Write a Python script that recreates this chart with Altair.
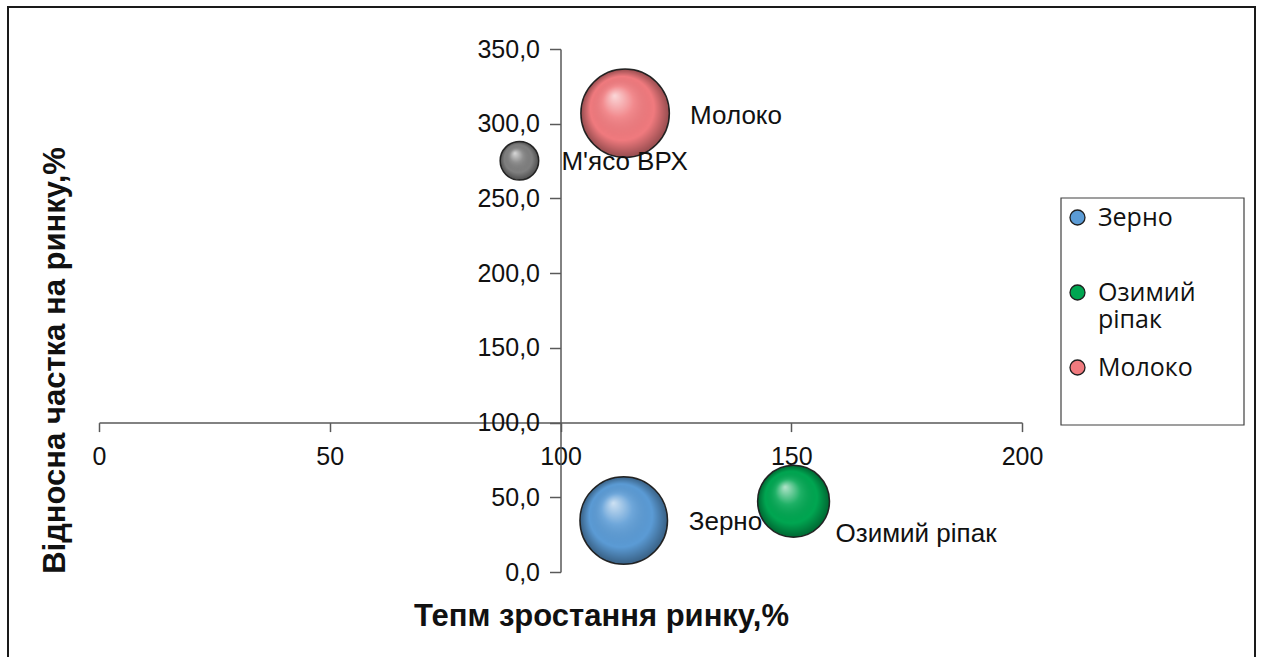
import altair as alt
import pandas as pd

# Market position of farm products (BCG-style bubble chart)
products = ["Зерно", "Озимий ріпак", "Молоко", "М'ясо ВРХ"]
growth_rate = [113.7, 150.5, 114.0, 91.1]      # Тепм зростання ринку, %
relative_share = [34.5, 47.3, 307.0, 275.2]    # Відносна частка на ринку, %
volume = [98, 66, 100, 19]                     # bubble size measure
colors = ["#5b9bd5", "#00a651", "#f07a7e", "#7f7f7f"]
legend_items = ["Зерно", "Озимий ріпак", "Молоко"]
x_ticks = [0, 50, 100, 150, 200]
y_ticks = [0, 50, 100, 150, 200, 250, 300, 350]

df = pd.DataFrame({
    "product": products,
    "growth": growth_rate,
    "share": relative_share,
    "volume": volume,
})

W, H = 923, 523
AXIS_COLOR = "#595959"
TEXT_COLOR = "#111111"
FONT = "Liberation Sans"

# axes cross at (100, 100)
x_enc = alt.X(
    "growth:Q",
    scale=alt.Scale(domain=[0, 200], nice=False, zero=False),
    axis=alt.Axis(
        values=x_ticks, format="d", offset=-149.4, grid=False,
        tickSize=9, tickWidth=1.5, tickColor=AXIS_COLOR,
        domainColor=AXIS_COLOR, domainWidth=1.5,
        labelFont=FONT, labelFontSize=25, labelColor=TEXT_COLOR,
        labelPadding=13, labelFlush=False, labelOverlap=False,
        title="Тепм зростання  ринку,%", titleFont=FONT, titleFontSize=31,
        titleFontWeight="bold", titleColor=TEXT_COLOR,
        titleX=502, titleY=203, titleAlign="center", titleBaseline="alphabetic",
    ),
)
y_enc = alt.Y(
    "share:Q",
    scale=alt.Scale(domain=[0, 350], nice=False),
    axis=alt.Axis(
        values=y_ticks, labelExpr="replace(format(datum.value, '.1f'), '.', ',')",
        offset=-461.5, grid=False,
        tickSize=11, tickWidth=1.5, tickColor=AXIS_COLOR,
        domainColor=AXIS_COLOR, domainWidth=1.5,
        labelFont=FONT, labelFontSize=25, labelColor=TEXT_COLOR,
        labelPadding=10, labelFlush=False, labelOverlap=False,
        title="Відносна частка на ринку,%", titleFont=FONT, titleFontSize=31,
        titleFontWeight="bold", titleColor=TEXT_COLOR,
        titleX=-496, titleY=311, titleAngle=270,
        titleAlign="center", titleBaseline="alphabetic",
    ),
)
size_enc = alt.Size("volume:Q", scale=alt.Scale(domain=[0, 100], range=[0, 7832]), legend=None)

color_enc = alt.Color(
    "product:N",
    scale=alt.Scale(domain=products, range=colors),
    legend=alt.Legend(
        values=legend_items, title=None, orient="none", legendX=966, legendY=156,
        padding=0, symbolType="circle", symbolSize=225,
        symbolStrokeColor="#1f1f1f", symbolStrokeWidth=1.3, symbolOpacity=1,
        labelFont="Open Sans", labelFontSize=25, labelColor=TEXT_COLOR,
        labelOffset=8, labelLimit=300, rowPadding=22, gridAlign="all",
        labelExpr="datum.label == 'Озимий ріпак' ? ['Озимий', 'ріпак'] : datum.label",
    ),
)

bubbles = alt.Chart(df).mark_circle(opacity=1, stroke="#2b2b2b", strokeWidth=1.5).encode(
    x=x_enc, y=y_enc, size=size_enc, color=color_enc
)

# glossy sphere shading laid over every bubble
shine = alt.RadialGradient(
    gradient="radial", x1=0.38, y1=0.3, r1=0.0, x2=0.5, y2=0.5, r2=0.5,
    stops=[
        alt.GradientStop(offset=0.0, color="rgba(255,255,255,0.7)"),
        alt.GradientStop(offset=0.35, color="rgba(255,255,255,0.12)"),
        alt.GradientStop(offset=0.72, color="rgba(0,0,0,0.0)"),
        alt.GradientStop(offset=1.0, color="rgba(0,0,0,0.38)"),
    ],
)
gloss = alt.Chart(df).mark_circle(opacity=1, fill=shine, strokeWidth=0).encode(
    x=x_enc, y=y_enc, size=size_enc
)


def bubble_label(name, dx, dy):
    return alt.Chart(df).transform_filter(
        alt.FieldEqualPredicate(field="product", equal=name)
    ).mark_text(
        align="left", baseline="middle", dx=dx, dy=dy,
        font=FONT, fontSize=26, color=TEXT_COLOR,
    ).encode(x=x_enc, y=y_enc, text="product:N")


labels = [
    bubble_label("Молоко", 65, 2.5),
    bubble_label("М'ясо ВРХ", 42, 1.5),
    bubble_label("Зерно", 65, 2),
    bubble_label("Озимий ріпак", 42, 32.5),
]

blank = alt.Data(values=[{}])
outer_frame = alt.Chart(blank).mark_rect(fill="transparent", stroke="#1a1a1a", strokeWidth=2).encode(
    x=alt.value(-91), x2=alt.value(1156), y=alt.value(-42), y2=alt.value(620)
)
legend_frame = alt.Chart(blank).mark_rect(fill="transparent", stroke="#404040", strokeWidth=1.2).encode(
    x=alt.value(962), x2=alt.value(1145), y=alt.value(149), y2=alt.value(376)
)

chart = alt.layer(outer_frame, legend_frame, bubbles, gloss, *labels).properties(
    width=W, height=H,
    padding={"left": 99, "top": 49, "right": 239, "bottom": 85},
    autosize=alt.AutoSizeParams(type="none"),
    background="white",
).configure_view(stroke=None)

chart.save("out.html", embed_options={"renderer": "svg", "actions": False})
